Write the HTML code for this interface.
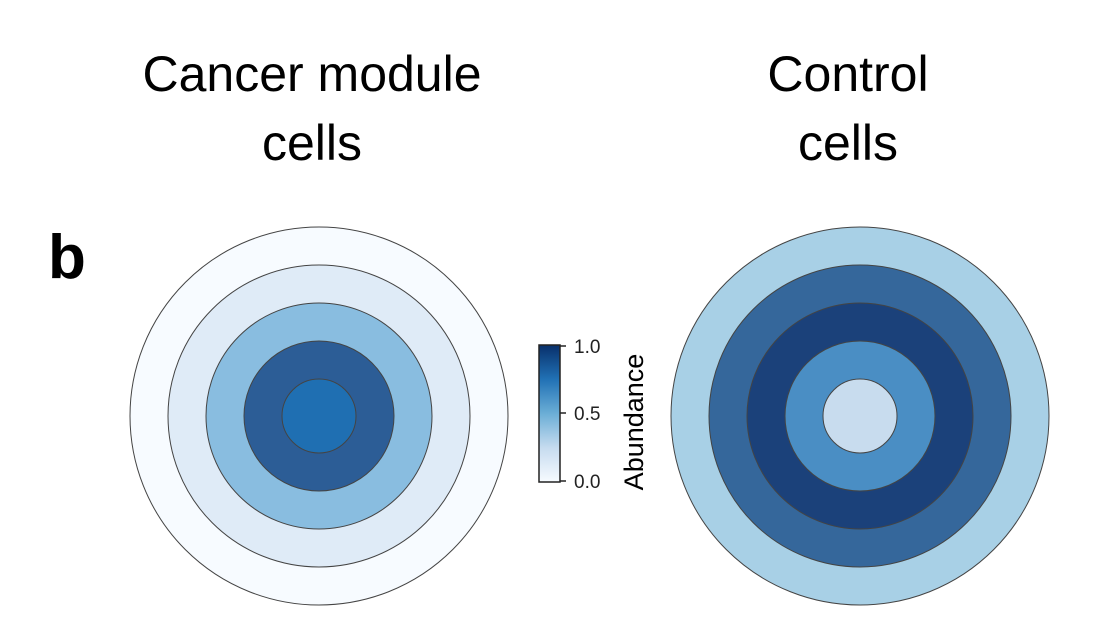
<!DOCTYPE html>
<html><head><style>body{margin:0;background:#fff}</style></head><body>
<svg width="1112" height="625" xmlns="http://www.w3.org/2000/svg" font-family="Liberation Sans, sans-serif">
<defs><linearGradient id="g" x1="0" y1="1" x2="0" y2="0">
<stop offset="0" stop-color="#f7fbff"/><stop offset="0.25" stop-color="#c6dbef"/><stop offset="0.5" stop-color="#6baed6"/><stop offset="0.75" stop-color="#2171b5"/><stop offset="1" stop-color="#08306b"/></linearGradient></defs>
<text x="312" y="91" font-size="50" text-anchor="middle">Cancer module</text>
<text x="312" y="160" font-size="50" text-anchor="middle">cells</text>
<text x="848" y="91" font-size="50" text-anchor="middle">Control</text>
<text x="848" y="160" font-size="50" text-anchor="middle">cells</text>
<text x="48" y="278" font-size="62" font-weight="bold">b</text>
<g stroke="#444" stroke-width="1">
<circle cx="319" cy="416" r="189" fill="#f7fbff"/>
<circle cx="319" cy="416" r="151" fill="#dfebf7"/>
<circle cx="319" cy="416" r="113" fill="#89bde0"/>
<circle cx="319" cy="416" r="75" fill="#2c5d96"/>
<circle cx="319" cy="416" r="37" fill="#1f6fb2"/>
<circle cx="860" cy="416" r="189" fill="#a8d0e6"/>
<circle cx="860" cy="416" r="151" fill="#35679b"/>
<circle cx="860" cy="416" r="113" fill="#1b417a"/>
<circle cx="860" cy="416" r="75" fill="#4a8ec4"/>
<circle cx="860" cy="416" r="37" fill="#c8dcee"/>
</g>
<rect x="539" y="345" width="21" height="137" fill="url(#g)" stroke="#222" stroke-width="1.5"/>
<g stroke="#222" stroke-width="1.5"><line x1="560" y1="346" x2="566" y2="346"/><line x1="560" y1="413" x2="566" y2="413"/><line x1="560" y1="481" x2="566" y2="481"/></g>
<g font-size="19" fill="#222"><text x="574" y="353">1.0</text><text x="574" y="420">0.5</text><text x="574" y="488">0.0</text></g>
<text transform="translate(643,422) rotate(-90)" font-size="27" text-anchor="middle">Abundance</text>
</svg>
</body></html>
